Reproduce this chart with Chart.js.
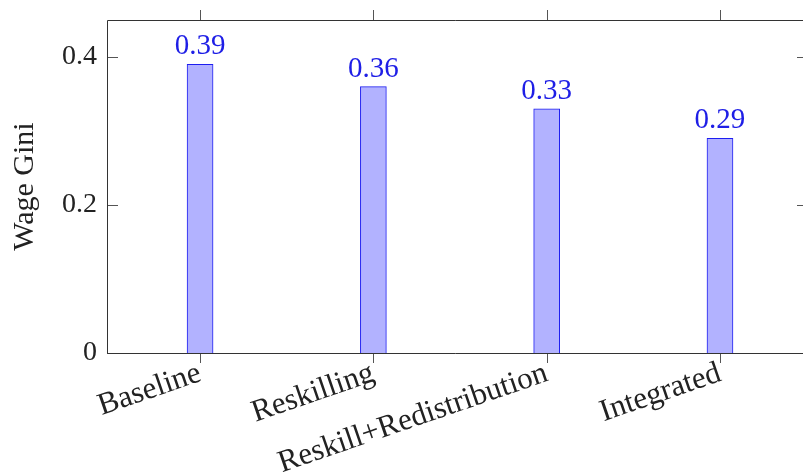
<!DOCTYPE html>
<html>
<head>
<meta charset="utf-8">
<script src="https://cdn.jsdelivr.net/npm/chart.js@4"></script>
<style>
    html, body { margin: 0; padding: 0; background: #fff; overflow: hidden; }
    #wrap { width: 803px; height: 475px; position: relative; }
</style>
</head>
<body>
<div id="wrap"><canvas id="gini-chart"></canvas></div>
<script>
const scenarios = ['Baseline', 'Reskilling', 'Reskill+Redistribution', 'Integrated'];
const wageGini = [0.39, 0.36, 0.33, 0.29];
const yTicks = [0, 0.2, 0.4];

const serif = "'Liberation Serif', 'DejaVu Serif', serif";
const barFill = 'rgb(178, 178, 255)';
const barLine = 'rgb(30, 30, 240)';
const labelBlue = 'rgb(30, 30, 230)';

// frame, pgfplots-like tick marks and the value labels above the bars
// (the right side of the original frame is cut off by the picture edge)
const framePlugin = {
    id: 'frame',
    afterDatasetsDraw(chart) {
        const { ctx, chartArea: a, scales: { x, y } } = chart;
        ctx.save();
        ctx.lineWidth = 1;
        ctx.strokeStyle = '#555';
        ctx.beginPath();
        x.ticks.forEach(t => {
            const px = Math.round(x.getPixelForValue(t.value)) + 0.5;
            ctx.moveTo(px, a.bottom); ctx.lineTo(px, a.bottom + 10);
            ctx.moveTo(px, a.top); ctx.lineTo(px, a.top - 10);
        });
        y.ticks.forEach(t => {
            const py = Math.round(y.getPixelForValue(t.value)) + 0.5;
            ctx.moveTo(a.left, py); ctx.lineTo(a.left + 11, py);
            ctx.moveTo(a.right, py); ctx.lineTo(a.right - 6, py);
        });
        ctx.stroke();
        const l = Math.round(a.left) + 0.5, t = Math.round(a.top) + 0.5;
        const b = Math.round(a.bottom) + 0.5;
        ctx.strokeStyle = '#333';
        ctx.beginPath();
        ctx.moveTo(a.right, t); ctx.lineTo(l, t); ctx.lineTo(l, b); ctx.lineTo(a.right, b);
        ctx.stroke();

        const meta = chart.getDatasetMeta(0);
        ctx.fillStyle = labelBlue;
        ctx.font = '29px ' + serif;
        ctx.textAlign = 'center';
        ctx.textBaseline = 'alphabetic';
        meta.data.forEach((bar, i) => {
            ctx.fillText(wageGini[i].toFixed(2), bar.x, bar.y - 10);
        });
        ctx.restore();
    }
};

function noPadding(s) {
    s.paddingLeft = 0;
    s.paddingRight = 0;
    s.paddingTop = 0;
    s.paddingBottom = 0;
}

new Chart(document.querySelector('#gini-chart').getContext('2d'), {
    type: 'bar',
    data: {
        datasets: [{
            label: 'Wage Gini',
            data: wageGini.map((v, i) => ({ x: i, y: v })),
            backgroundColor: barFill,
            borderColor: barLine,
            borderWidth: 1,
            barThickness: 26
        }]
    },
    options: {
        responsive: true,
        maintainAspectRatio: false,
        animation: false,
        layout: { padding: { top: 20, right: 0, left: 0, bottom: 0 } },
        plugins: { legend: { display: false }, tooltip: { enabled: false } },
        scales: {
            x: {
                type: 'linear',
                offset: false,
                min: -0.537,
                max: 3.479,
                afterBuildTicks: s => { s.ticks = scenarios.map((_, i) => ({ value: i })); },
                afterFit: s => { s.height = 122; noPadding(s); },
                grid: { display: false, drawTicks: false },
                border: { display: false },
                ticks: {
                    callback: v => scenarios[v],
                    minRotation: 19,
                    maxRotation: 19,
                    autoSkip: false,
                    padding: 2,
                    color: '#222',
                    font: { family: serif, size: 31 }
                }
            },
            y: {
                min: 0,
                max: 0.45,
                afterBuildTicks: s => { s.ticks = yTicks.map(v => ({ value: v })); },
                afterFit: s => { s.width = 107; noPadding(s); },
                grid: { display: false, drawTicks: false },
                border: { display: false },
                ticks: {
                    callback: v => v === 0 ? '0' : v.toFixed(1),
                    padding: 10,
                    color: '#222',
                    font: { family: serif, size: 28 }
                },
                title: {
                    display: true,
                    text: 'Wage Gini',
                    color: '#222',
                    padding: { top: 7, bottom: 0 },
                    font: { family: serif, size: 30 }
                }
            }
        }
    },
    plugins: [framePlugin]
});
</script>
</body>
</html>
